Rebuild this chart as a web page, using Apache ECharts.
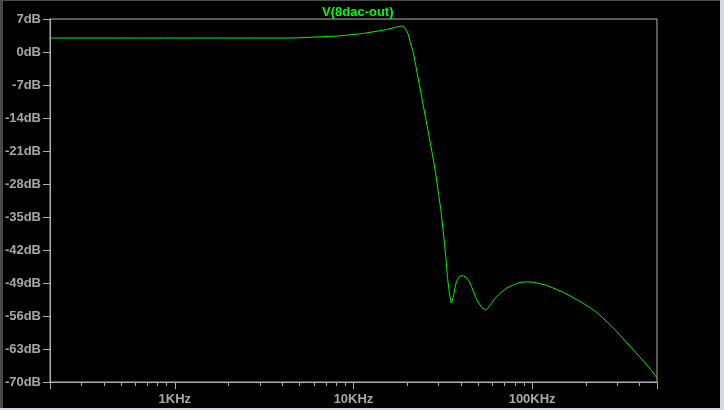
<!DOCTYPE html>
<html>
<head>
<meta charset="utf-8">
<script src="https://cdn.jsdelivr.net/npm/echarts@6/dist/echarts.min.js"></script>
<style>
html,body{margin:0;padding:0;background:#000;}
#chart{width:724px;height:410px;}
</style>
</head>
<body>
<div id="chart"></div>
<script>
// ---- data ----
var titleText = 'V(8dac-out)';
var freqHz = [200, 726, 2635, 4472, 6172, 8091, 9817, 11385, 12700, 14450, 16230, 17770, 18470, 18950, 19450, 20290, 20740, 21640, 22410, 23290, 24200, 25160, 26150, 27180, 28620, 29870, 30810, 31860, 32860, 33550, 34420, 35320, 36240, 37520, 39150, 40900, 43060, 44940, 48990, 52250, 55240, 59450, 63400, 72150, 84000, 93000, 102000, 120800, 149600, 185600, 230200, 285100, 353700, 438500, 500000];
var gainDb = [2.97, 2.97, 2.97, 2.97, 3.18, 3.39, 3.67, 3.95, 4.24, 4.58, 5.0, 5.37, 5.52, 5.45, 5.09, 3.67, 2.25, -0.21, -3.25, -6.62, -9.99, -13.36, -16.74, -20.11, -24.97, -29.91, -33.46, -38.40, -43.36, -47.60, -51.12, -53.24, -51.85, -49.00, -47.60, -47.45, -47.94, -49.00, -52.55, -54.18, -54.67, -53.24, -51.85, -50.06, -48.98, -48.75, -48.85, -49.51, -51.00, -52.90, -55.24, -58.55, -62.45, -66.33, -69.15];
var xMin = 200, xMax = 500000;
var xMajorTicks = [200, 1000, 10000, 100000, 500000];
var xLabelValues = [1000, 10000, 100000];
var xLabelTexts = ['1KHz', '10KHz', '100KHz'];
var xMinorTicks = [300, 400, 500, 600, 700, 800, 900, 2000, 3000, 4000, 5000, 6000, 7000, 8000, 9000, 20000, 30000, 40000, 50000, 60000, 70000, 80000, 90000, 200000, 300000, 400000];
var yMin = -70, yMax = 7, yStep = 7;

var axisGray = '#b0b0b0';
var labelGray = '#a8a8a8';
var font = '"Liberation Sans", Arial, sans-serif';

var pts = freqHz.map(function (f, i) { return [f, gainDb[i]]; });

var chart = echarts.init(document.getElementById('chart'), null, {renderer: 'canvas'});
var gridPos = {left: 50, right: 67, top: 19, bottom: 28};
chart.setOption({
  backgroundColor: '#000',
  animation: false,
  title: {
    text: titleText,
    left: 317, top: 1,
    textStyle: {color: '#00ff00', fontSize: 13, fontWeight: 'bold', fontFamily: font}
  },
  grid: [
    Object.assign({show: true, borderColor: axisGray, borderWidth: 1, backgroundColor: 'transparent'}, gridPos),
    Object.assign({show: false}, gridPos)
  ],
  xAxis: [
    {
      type: 'log', gridIndex: 0, min: xMin, max: xMax, logBase: 10,
      axisLine: {show: true, onZero: false, lineStyle: {color: axisGray, width: 1}},
      splitLine: {show: false},
      axisTick: {show: true, inside: false, length: 7, customValues: xMajorTicks, lineStyle: {color: axisGray}},
      axisLabel: {
        show: true, margin: 11, customValues: xLabelValues,
        color: labelGray, fontSize: 13, fontWeight: 'bold', fontFamily: font,
        formatter: function (v) {
          var i = xLabelValues.indexOf(Math.round(v));
          return i >= 0 ? xLabelTexts[i] : '';
        }
      }
    },
    {
      type: 'log', gridIndex: 1, min: xMin, max: xMax, logBase: 10,
      axisLine: {show: false, onZero: false},
      splitLine: {show: false},
      axisTick: {show: true, inside: false, length: 4, customValues: xMinorTicks, lineStyle: {color: axisGray}},
      axisLabel: {show: false}
    }
  ],
  yAxis: [
    {
      type: 'value', gridIndex: 0, min: yMin, max: yMax, interval: yStep,
      axisLine: {show: true, onZero: false, lineStyle: {color: axisGray, width: 1}},
      splitLine: {show: false},
      axisTick: {show: true, inside: false, length: 7, lineStyle: {color: axisGray}},
      axisLabel: {
        show: true, margin: 9, color: labelGray, fontSize: 13, fontWeight: 'bold', fontFamily: font,
        formatter: function (v) { return v + 'dB'; }
      }
    },
    {
      type: 'value', gridIndex: 1, min: yMin, max: yMax, interval: yStep,
      show: false
    }
  ],
  graphic: [
    {type: 'rect', shape: {x: 0, y: 0, width: 724, height: 1}, style: {fill: '#4a4a4a'}, silent: true},
    {type: 'rect', shape: {x: 0, y: 0, width: 3, height: 410}, style: {fill: '#4a4a4a'}, silent: true},
    {type: 'rect', shape: {x: 720, y: 0, width: 4, height: 410}, style: {fill: '#d4dae4'}, silent: true},
    {type: 'rect', shape: {x: 0, y: 408, width: 724, height: 2}, style: {fill: '#d4dae4'}, silent: true}
  ],
  series: [{
    type: 'line',
    xAxisIndex: 0, yAxisIndex: 0,
    data: pts,
    showSymbol: false,
    smooth: 0.15,
    lineStyle: {color: '#00ff00', width: 1},
    clip: true
  }]
});
</script>
</body>
</html>
